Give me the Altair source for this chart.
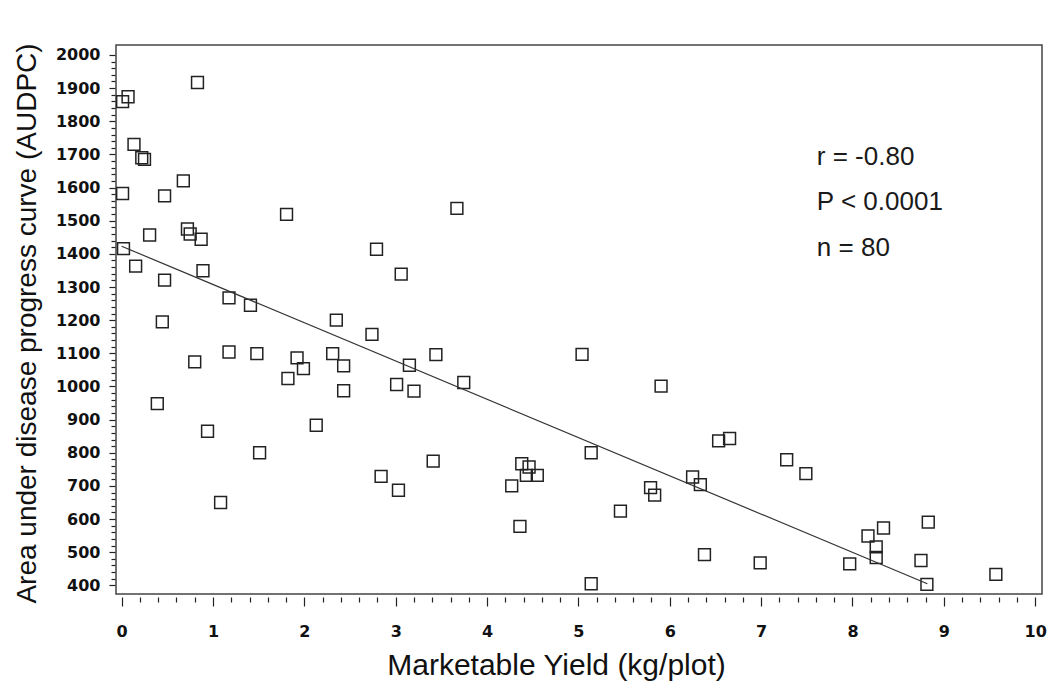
import altair as alt
import pandas as pd

# Marketable yield (kg/plot) and AUDPC for each plot
yield_kg = [0.01, 0.07, 0.83, 0.135, 0.22, 0.25, 0.01, 0.675, 0.47, 1.805,
            0.306, 0.72, 0.75, 0.87, 0.02, 0.153, 0.89, 0.47, 1.175, 1.41,
            2.35, 0.445, 0.80, 1.175, 1.48, 1.92, 1.99, 1.82, 2.31, 2.43,
            2.43, 0.39, 0.94, 2.13, 1.51, 1.083, 3.67, 2.79, 3.06, 2.74,
            3.44, 3.15, 3.01, 3.20, 3.745, 5.04, 5.905, 2.84, 3.03, 3.41,
            4.38, 4.46, 4.43, 4.55, 4.27, 4.36, 5.14, 5.14, 5.46, 5.79,
            5.835, 6.25, 6.335, 6.535, 6.655, 7.28, 7.49, 6.38, 6.99, 7.97,
            8.17, 8.34, 8.26, 8.26, 8.83, 8.75, 8.815, 9.57]
audpc = [1859, 1874, 1917, 1730, 1690, 1685, 1582, 1620, 1575, 1519,
         1457, 1475, 1460, 1444, 1416, 1363, 1349, 1321, 1267, 1245,
         1200, 1195, 1074, 1104, 1099, 1086, 1054, 1024, 1099, 1062,
         987, 948, 865, 883, 800, 650, 1537, 1414, 1339, 1157,
         1096, 1064, 1006, 986, 1012, 1097, 1001, 729, 687, 775,
         767, 757, 732, 732, 700, 578, 800, 405, 624, 695,
         672, 727, 704, 836, 843, 779, 737, 493, 468, 465,
         549, 573, 516, 484, 591, 475, 403, 433]

# Regression line end points
fit_x = [0.0, 8.82]
fit_y = [1423, 405]

# Statistics annotation
ann_text = ["r = -0.80", "P < 0.0001", "n = 80"]
ann_x = [7.61, 7.61, 7.61]
ann_y = [1691, 1555, 1419]

# Axis tick values (major + minor)
x_ticks = [round(i * 0.2, 1) for i in range(51)]
y_ticks = [400 + 20 * i for i in range(81)]

pts = pd.DataFrame({"x": yield_kg, "y": audpc})
fit = pd.DataFrame({"x": fit_x, "y": fit_y})
ann = pd.DataFrame({"x": ann_x, "y": ann_y, "t": ann_text})

xscale = alt.Scale(domain=[-0.062, 10.075], nice=False, zero=False)
yscale = alt.Scale(domain=[374, 2030], nice=False, zero=False)

lab_font = "DejaVu Sans"
title_font = "Liberation Sans"

x_axis = alt.Axis(
    title="Marketable Yield (kg/plot)",
    values=x_ticks, tickCount=1000,
    labelExpr="abs(datum.value - round(datum.value)) < 0.001 ? format(datum.value, 'd') : ''",
    labelOverlap=False,
    labelFont=lab_font, labelFontSize=16, labelFontWeight="bold", labelColor="#111",
    labelPadding=17,
    domain=False, grid=False, offset=3,
    tickColor="#222", tickWidth=1.2,
    tickSize={"condition": {"test": "abs(datum.value - round(datum.value)) < 0.001", "value": 9}, "value": 5},
    titleFont=title_font, titleFontSize=30, titleFontWeight="normal", titleColor="#111",
    titleX=440, titleY=68, titleBaseline="middle", titleAlign="center",
)
y_axis = alt.Axis(
    title="Area under disease progress curve (AUDPC)",
    values=y_ticks, tickCount=1000,
    labelExpr="datum.value % 100 === 0 ? '' + datum.value : ''",
    labelOverlap=False,
    labelFont=lab_font, labelFontSize=16, labelFontWeight="bold", labelColor="#111",
    labelPadding=9,
    domain=False, grid=False, offset=1,
    tickColor="#222", tickWidth=1.2,
    tickSize={"condition": {"test": "datum.value % 100 === 0", "value": 6}, "value": 4},
    titleFont=title_font, titleFontSize=28, titleFontWeight="normal", titleColor="#111",
    titleX=-88, titleY=278, titleBaseline="middle", titleAlign="center", titleAngle=-90,
)

points = alt.Chart(pts).mark_point(
    shape="square", filled=False, size=140, strokeWidth=1.5, color="#222", opacity=1
).encode(
    x=alt.X("x:Q", scale=xscale, axis=x_axis),
    y=alt.Y("y:Q", scale=yscale, axis=y_axis),
)

line = alt.Chart(fit).mark_line(color="#333", strokeWidth=1.2).encode(
    x=alt.X("x:Q", scale=xscale, axis=x_axis),
    y=alt.Y("y:Q", scale=yscale, axis=y_axis),
)

text = alt.Chart(ann).mark_text(
    align="left", baseline="middle", font=title_font, fontSize=26, color="#1a1a1a"
).encode(
    x=alt.X("x:Q", scale=xscale, axis=x_axis),
    y=alt.Y("y:Q", scale=yscale, axis=y_axis),
    text="t:N",
)

chart = alt.layer(points, line, text).properties(
    width=926, height=549,
    autosize=alt.AutoSizeParams(type="none"),
    padding={"left": 116, "top": 45, "right": 12, "bottom": 100},
    background="white",
).configure_view(stroke="#444", strokeWidth=1.5)

chart.save("out.html", embed_options={"renderer": "svg", "actions": False})
